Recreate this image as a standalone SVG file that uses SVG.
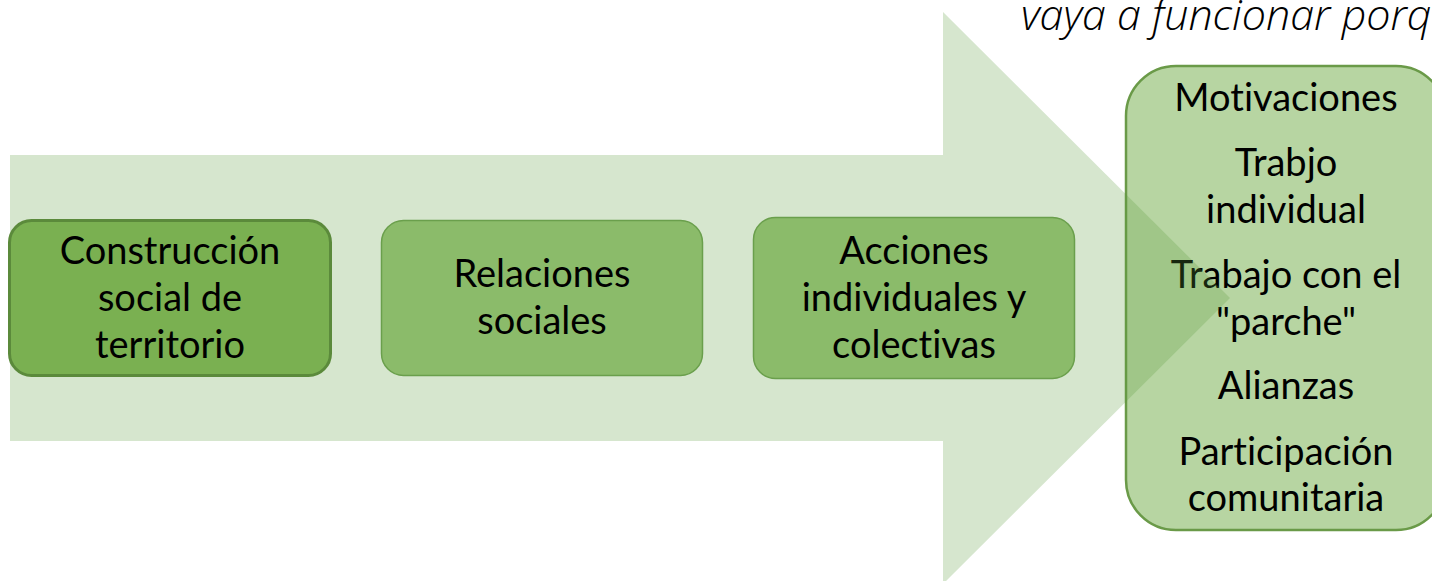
<svg xmlns="http://www.w3.org/2000/svg" width="1432" height="581" viewBox="0 0 1432 581">
<style>
.t{font-family:Lato,"Open Sans",sans-serif;font-size:38px;fill:#000;text-anchor:middle;font-variant-ligatures:none}
.top{font-family:"Open Sans",sans-serif;font-size:43px;font-style:italic;font-weight:300;fill:#000}
</style>
<rect width="1432" height="581" fill="#fff"/>
<text class="top" x="1021" y="30">vaya a funcionar porq</text>
<g id="result">
<rect x="1126" y="66" width="320" height="464" rx="50" fill="#b7d5a2" stroke="#6a9a48" stroke-width="2.5"/>
<text class="t" x="1286" y="111">Motivaciones</text>
<text class="t" x="1286" y="176">Trabjo</text>
<text class="t" x="1286" y="223">individual</text>
<text class="t" x="1286" y="288">Trabajo con el</text>
<text class="t" x="1286" y="335">"parche"</text>
<text class="t" x="1286" y="399">Alianzas</text>
<text class="t" x="1286" y="465">Participación</text>
<text class="t" x="1286" y="511">comunitaria</text>
</g>
<g id="connectors">
<polygon points="10,155 943,155 943,12 1230,298 943,584 943,441 10,441" fill="#5a9a3a" fill-opacity="0.25"/>
</g>
<g id="n1">
<rect x="9.5" y="220.5" width="321" height="155" rx="22" fill="#7ab051" stroke="#5b8a3b" stroke-width="3"/>
<text class="t" x="170" y="264">Construcción</text>
<text class="t" x="170" y="311">social de</text>
<text class="t" x="170" y="358">territorio</text>
</g>
<g id="n2">
<rect x="381.5" y="220.5" width="321" height="155" rx="22" fill="#8bbb6a" stroke="#6a9f4c" stroke-width="1.5"/>
<text class="t" x="542" y="287">Relaciones</text>
<text class="t" x="542" y="334">sociales</text>
</g>
<g id="n3">
<rect x="753.5" y="217.5" width="321" height="161" rx="22" fill="#8bbb6a" stroke="#6a9f4c" stroke-width="1.5"/>
<text class="t" x="914" y="264">Acciones</text>
<text class="t" x="914" y="311">individuales y</text>
<text class="t" x="914" y="358">colectivas</text>
</g>
</svg>
